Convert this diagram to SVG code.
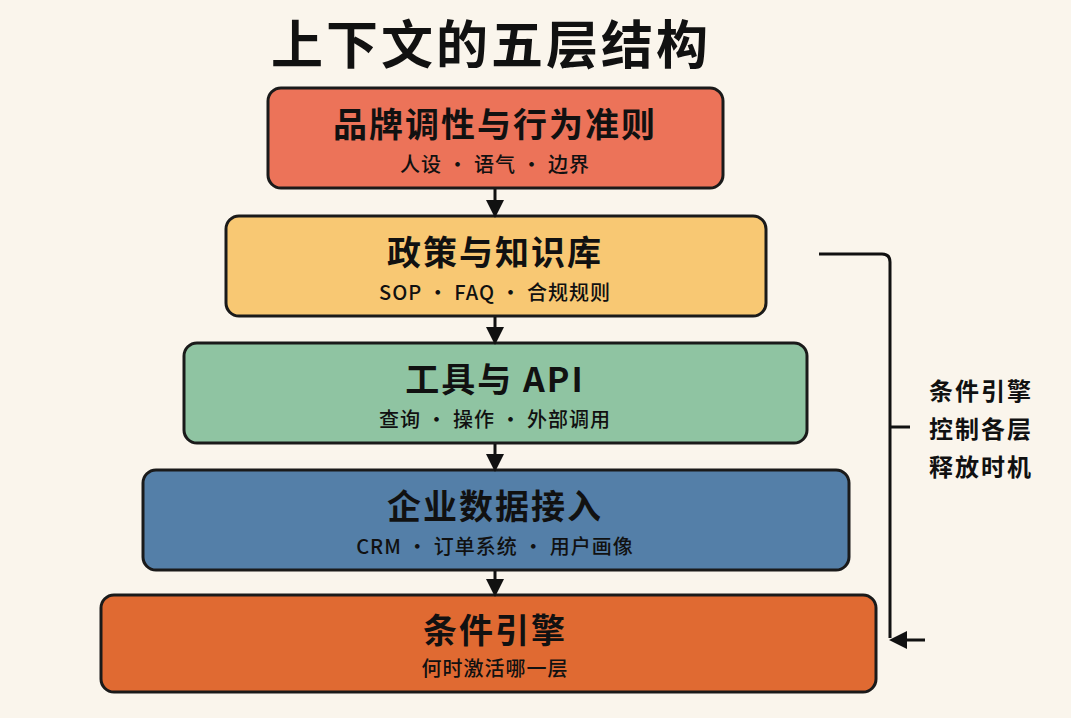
<svg xmlns="http://www.w3.org/2000/svg" width="1071" height="718" viewBox="0 0 1071 718">
<defs>
<style>
.box{stroke:#1a1a1a;stroke-width:3}
text{font-family:"Noto Sans CJK SC","Noto Sans",sans-serif;fill:#111;text-anchor:middle}
.h{font-size:34px;font-weight:700;letter-spacing:2px}
.s{font-size:20px;font-weight:500;letter-spacing:1px}
.n{font-size:24px;font-weight:700;letter-spacing:2px}
.c{stroke:#111;stroke-width:3;fill:none}
</style>
<marker id="ar" markerWidth="20" markerHeight="20" refX="14" refY="10" orient="auto" markerUnits="userSpaceOnUse" viewBox="0 0 20 20"><path d="M0,1 L18,10 L0,19 z" fill="#111"/></marker>
</defs>
<rect width="1071" height="718" fill="#FAF5EC"/>
<text x="491" y="64" style="font-size:52px;font-weight:700;letter-spacing:3px">上下文的五层结构</text>
<g id="n1"><rect class="box" x="268" y="88" width="455" height="100" rx="13" fill="#EC7359"/><text class="h" x="495" y="137">品牌调性与行为准则</text><text class="s" x="495" y="172">人设 · 语气 · 边界</text></g>
<g id="n2"><rect class="box" x="226" y="216" width="540" height="100" rx="13" fill="#F8C873"/><text class="h" x="495" y="265">政策与知识库</text><text class="s" x="495" y="300">SOP · FAQ · 合规规则</text></g>
<g id="n3"><rect class="box" x="184" y="343" width="623" height="100" rx="13" fill="#8FC4A2"/><text class="h" x="495" y="392">工具与 API</text><text class="s" x="495" y="427">查询 · 操作 · 外部调用</text></g>
<g id="n4"><rect class="box" x="143" y="470" width="706" height="100" rx="13" fill="#547FA8"/><text class="h" x="495" y="519">企业数据接入</text><text class="s" x="495" y="554">CRM · 订单系统 · 用户画像</text></g>
<g id="n5"><rect class="box" x="101" y="595" width="775" height="97" rx="13" fill="#E06A32"/><text class="h" x="495" y="643">条件引擎</text><text class="s" x="495" y="676">何时激活哪一层</text></g>
<g id="note"><text class="n" x="981" y="400">条件引擎</text><text class="n" x="981" y="438">控制各层</text><text class="n" x="981" y="476">释放时机</text></g>
<g id="connectors">
<line class="c" x1="495" y1="189" x2="495" y2="214" marker-end="url(#ar)"/>
<line class="c" x1="495" y1="317" x2="495" y2="341" marker-end="url(#ar)"/>
<line class="c" x1="495" y1="444" x2="495" y2="468" marker-end="url(#ar)"/>
<line class="c" x1="495" y1="571" x2="495" y2="593" marker-end="url(#ar)"/>
<path class="c" d="M819,254 H882 Q890,254 890,262 V638"/>
<line class="c" x1="890" y1="427" x2="910" y2="427"/>
<line class="c" x1="925" y1="640" x2="893" y2="640" marker-end="url(#ar)"/>
</g>
</svg>
